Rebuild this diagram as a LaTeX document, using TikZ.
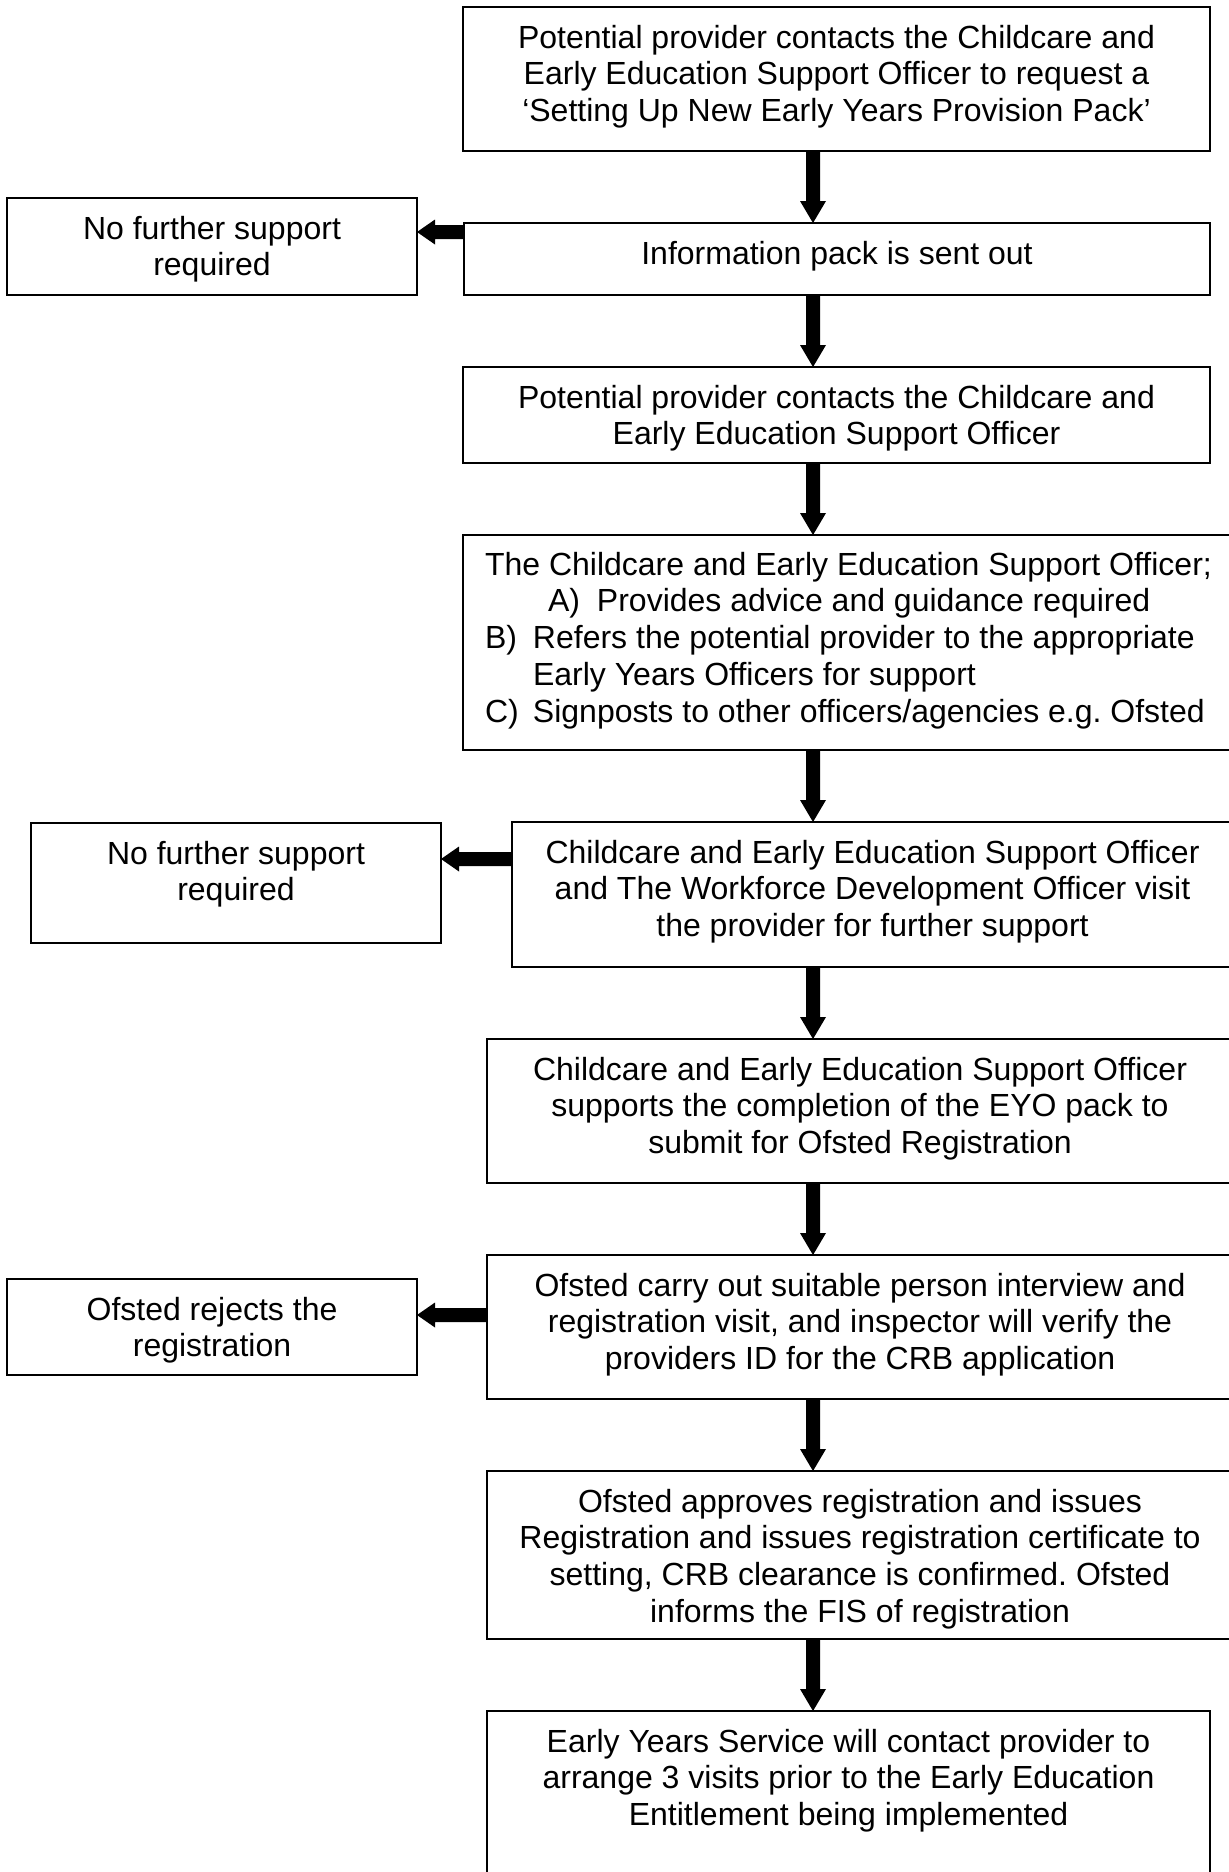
\documentclass[tikz,border=0pt]{standalone}
\usepackage{fontspec}
\setmainfont{Liberation Sans}
\usetikzlibrary{calc}
\frenchspacing
\tikzset{
  flowbox/.style={draw=black, line width=2.2pt, inner sep=0pt, outer sep=0pt, anchor=north west,
    font=\fontsize{32pt}{36.8pt}\selectfont},
  arrowfill/.style={fill=black}
}
\newcommand\boxc[3]{\parbox[c][#2pt][t]{#1pt}{\centering\frenchspacing\rule{0pt}{41pt}#3}}
\newcommand\varr[2]{\fill[arrowfill] let \p1=(#1.south -| ax), \p2=(#2.north -| ax) in
  (\x1-7pt,\y1) -- (\x1+7pt,\y1) -- (\x1+7pt,\y2+22pt) -- (\x1+13pt,\y2+22pt) -- (\x1,\y2)
  -- (\x1-13pt,\y2+22pt) -- (\x1-7pt,\y2+22pt) -- cycle;}
\newcommand\harr[3]{\fill[arrowfill] let \p1=(#1.west |- #3), \p2=(#2.east |- #3) in
  (\x1,\y1-7pt) -- (\x1,\y1+7pt) -- (\x2+18pt,\y1+7pt) -- (\x2+18pt,\y1+12.5pt) -- (\x2,\y1)
  -- (\x2+18pt,\y1-12.5pt) -- (\x2+18pt,\y1-7pt) -- cycle;}
\begin{document}
\begin{tikzpicture}[x=1pt,y=-1pt]
\useasboundingbox (0,0) rectangle (1229,1872);
\coordinate (ax) at (813,0);
\coordinate (h1) at (0,232);
\coordinate (h2) at (0,859);
\coordinate (h3) at (0,1315);

\node[flowbox] (b1) at (463,7) {\boxc{747}{144}{Potential provider contacts the Childcare and\\Early Education Support Officer to request a\\`Setting Up New Early Years Provision Pack'}};
\node[flowbox] (b2) at (7,198) {\boxc{410}{97}{No further support\\required}};
\node[flowbox] (b3) at (464,223) {\boxc{746}{72}{Information pack is sent out}};
\node[flowbox] (b4) at (463,367) {\boxc{747}{96}{Potential provider contacts the Childcare and\\Early Education Support Officer}};
\node[flowbox] (b5) at (463,535) {\parbox[c][215pt][t]{770pt}{\raggedright\frenchspacing\leftskip=22pt
  \rule{0pt}{40pt}The Childcare and Early Education Support Officer;\\
  \hspace*{63pt}\makebox[49pt][l]{A)}Provides advice and guidance required\\
  \makebox[48pt][l]{B)}Refers the potential provider to the appropriate\\
  \hspace*{48pt}Early Years Officers for support\\
  \makebox[48pt][l]{C)}Signposts to other officers/agencies e.g. Ofsted}};
\node[flowbox] (b6) at (31,823) {\boxc{410}{120}{No further support\\required}};
\node[flowbox] (b7) at (512,822) {\boxc{721}{145}{Childcare and Early Education Support Officer\\and The Workforce Development Officer visit\\the provider for further support}};
\node[flowbox] (b8) at (487,1039) {\boxc{746}{144}{Childcare and Early Education Support Officer\\supports the completion of the EYO pack to\\submit for Ofsted Registration}};
\node[flowbox] (b9) at (7,1279) {\boxc{410}{96}{Ofsted rejects the\\registration}};
\node[flowbox] (b10) at (487,1255) {\boxc{746}{144}{Ofsted carry out suitable person interview and\\registration visit, and inspector will verify the\\providers ID for the CRB application}};
\node[flowbox] (b11) at (487,1471) {\boxc{746}{168}{Ofsted approves registration and issues\\Registration and issues registration certificate to\\setting, CRB clearance is confirmed. Ofsted\\informs the FIS of registration}};
\node[flowbox] (b12) at (487,1711) {\boxc{723}{175}{Early Years Service will contact provider to\\arrange 3 visits prior to the Early Education\\Entitlement being implemented}};

\varr{b1}{b3}
\varr{b3}{b4}
\varr{b4}{b5}
\varr{b5}{b7}
\varr{b7}{b8}
\varr{b8}{b10}
\varr{b10}{b11}
\varr{b11}{b12}
\harr{b3}{b2}{h1}
\harr{b7}{b6}{h2}
\harr{b10}{b9}{h3}
\end{tikzpicture}
\end{document}
